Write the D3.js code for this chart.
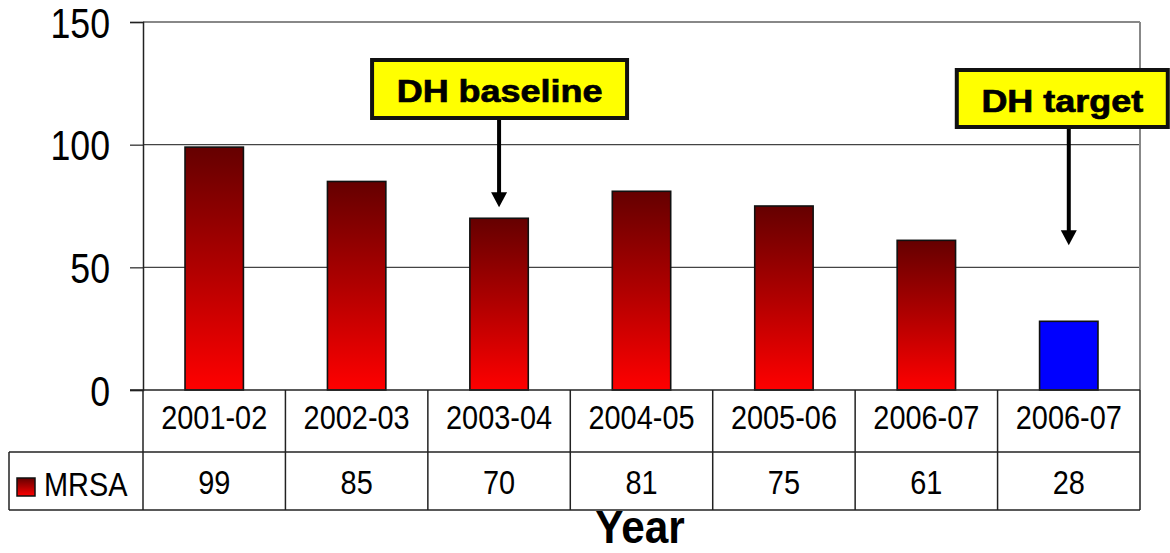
<!DOCTYPE html>
<html>
<head>
<meta charset="utf-8">
<script src="https://cdn.jsdelivr.net/npm/d3@7/dist/d3.min.js"></script>
<style>
  html, body { margin: 0; padding: 0; background: #fff; }
  svg { display: block; }
  text { font-family: "Liberation Sans", Arial, sans-serif; fill: #000; }
</style>
</head>
<body>
<svg id="chart" width="1170" height="553"></svg>
<script>
// MRSA cases by financial year, with the DH target in the last column
const categories = ["2001-02", "2002-03", "2003-04", "2004-05", "2005-06", "2006-07", "2006-07"];
const mrsaValues = [99, 85, 70, 81, 75, 61, 28];
const isTarget   = [false, false, false, false, false, false, true];
const yTicks     = [0, 50, 100, 150];
const seriesName = "MRSA";
const axisTitle  = "Year";
// callouts: label, column index, value the arrow points down to
const callouts = [
  { label: "DH baseline", col: 2, tip: 74.5 },
  { label: "DH target",   col: 6, tip: 59 }
];

(function () {
const svg = d3.select("#chart");
const SX = 0.85; // horizontally condensed lettering

const plotLeft = 143, plotRight = 1140, plotTop = 22, zeroY = 390;
const catRowBottom = 452, valRowBottom = 510, legendLeft = 9;

const x = d3.scaleBand().domain(d3.range(categories.length)).range([plotLeft, plotRight]).paddingInner(0.59).paddingOuter(0.295);
const xCol = d3.scaleBand().domain(d3.range(categories.length)).range([plotLeft, plotRight]);
const y = d3.scaleLinear().domain([0, 150]).range([zeroY, plotTop]);

// scaled text helper
function label(g, str, px, py, size, anchor, weight, sx) {
  return g.append("text")
    .attr("transform", `translate(${px},${py}) scale(${sx || SX},1)`)
    .attr("text-anchor", anchor || "middle")
    .attr("font-size", size)
    .attr("font-weight", weight || "normal")
    .text(str);
}

// gradient for the bars
const defs = svg.append("defs");
const grad = defs.append("linearGradient").attr("id", "redGrad").attr("x1", 0).attr("y1", 0).attr("x2", 0).attr("y2", 1);
grad.append("stop").attr("offset", "0%").attr("stop-color", "#650000");
grad.append("stop").attr("offset", "50%").attr("stop-color", "#b00000");
grad.append("stop").attr("offset", "100%").attr("stop-color", "#ff0000");

// gridlines
svg.append("g").selectAll("line").data(yTicks.filter(d => d > 0 && d < 150)).join("line")
  .attr("x1", plotLeft).attr("x2", plotRight)
  .attr("y1", d => y(d)).attr("y2", d => y(d))
  .attr("stroke", "#444").attr("stroke-width", 1.2);

// top and right plot borders
svg.append("line").attr("x1", plotLeft).attr("x2", plotRight).attr("y1", y(150)).attr("y2", y(150))
  .attr("stroke", "#888").attr("stroke-width", 2);
svg.append("line").attr("x1", plotRight).attr("x2", plotRight).attr("y1", y(150)).attr("y2", zeroY)
  .attr("stroke", "#888").attr("stroke-width", 2);

// y axis
const yAxis = d3.axisLeft(y).tickValues(yTicks).tickSize(13).tickPadding(0).tickFormat(d3.format("d"));
const ya = svg.append("g").attr("transform", `translate(${plotLeft},0)`).call(yAxis);
ya.select(".domain").attr("stroke", "#222").attr("stroke-width", 1.5);
ya.selectAll(".tick line").attr("stroke", "#222").attr("stroke-width", 1.2);
ya.selectAll(".tick text").remove();
ya.selectAll(".tick").each(function(d) {
  label(d3.select(this), String(d), -33, 15, 42, "end");
});

// bars
svg.append("g").selectAll("rect").data(mrsaValues).join("rect")
  .attr("x", (d, i) => x(i))
  .attr("y", d => y(d))
  .attr("width", x.bandwidth())
  .attr("height", d => zeroY - y(d))
  .attr("fill", (d, i) => isTarget[i] ? "#0000ff" : "url(#redGrad)")
  .attr("stroke", "#111").attr("stroke-width", 1.6);

// data table
const table = svg.append("g").attr("stroke", "#222").attr("stroke-width", 1.5);
table.append("line").attr("x1", plotLeft - 13).attr("x2", plotRight).attr("y1", zeroY).attr("y2", zeroY);
table.append("line").attr("x1", legendLeft).attr("x2", plotRight).attr("y1", catRowBottom).attr("y2", catRowBottom);
table.append("line").attr("x1", legendLeft).attr("x2", plotRight).attr("y1", valRowBottom).attr("y2", valRowBottom);
table.append("line").attr("x1", legendLeft).attr("x2", legendLeft).attr("y1", catRowBottom).attr("y2", valRowBottom);
table.selectAll("line.col").data(d3.range(categories.length + 1)).join("line").attr("class", "col")
  .attr("x1", i => i < categories.length ? xCol(i) : plotRight)
  .attr("x2", i => i < categories.length ? xCol(i) : plotRight)
  .attr("y1", zeroY).attr("y2", valRowBottom);

const txt = svg.append("g");
categories.forEach((c, i) => label(txt, c, xCol(i) + xCol.bandwidth() / 2, 429, 34));
mrsaValues.forEach((v, i) => label(txt, String(v), xCol(i) + xCol.bandwidth() / 2, 494, 34));

// legend key
txt.append("rect").attr("x", 17).attr("y", 478).attr("width", 18).attr("height", 18)
  .attr("fill", "url(#redGrad)").attr("stroke", "#111").attr("stroke-width", 1.5);
label(txt, seriesName, 44, 496, 34, "start");

// axis title
label(txt, axisTitle, 640, 543, 47, "middle", "bold", 0.9);

// callouts
const boxes = [
  { w: 255, h: 58, top: 60, textY: 102, dx: -127 },
  { w: 211, h: 57, top: 70, textY: 112, dx: -112 }
];
callouts.forEach((c, k) => {
  const cx = xCol(c.col) + xCol.bandwidth() / 2;
  const b = boxes[k];
  const g = svg.append("g");
  const bx = cx + b.dx;
  const tipY = y(c.tip);
  g.append("line").attr("x1", cx).attr("x2", cx).attr("y1", b.top + b.h).attr("y2", tipY - 12)
    .attr("stroke", "#000").attr("stroke-width", 4);
  g.append("path").attr("d", `M${cx - 8},${tipY - 15} L${cx + 8},${tipY - 15} L${cx},${tipY} Z`).attr("fill", "#000");
  g.append("rect").attr("x", bx).attr("y", b.top).attr("width", b.w).attr("height", b.h)
    .attr("fill", "#ffff00").attr("stroke", "#111").attr("stroke-width", 4);
  label(g, c.label, bx + b.w / 2, b.textY, 31, "middle", "bold", 1.16)
    .attr("stroke", "#000").attr("stroke-width", 0.7);
});
})();
</script>
</body>
</html>
